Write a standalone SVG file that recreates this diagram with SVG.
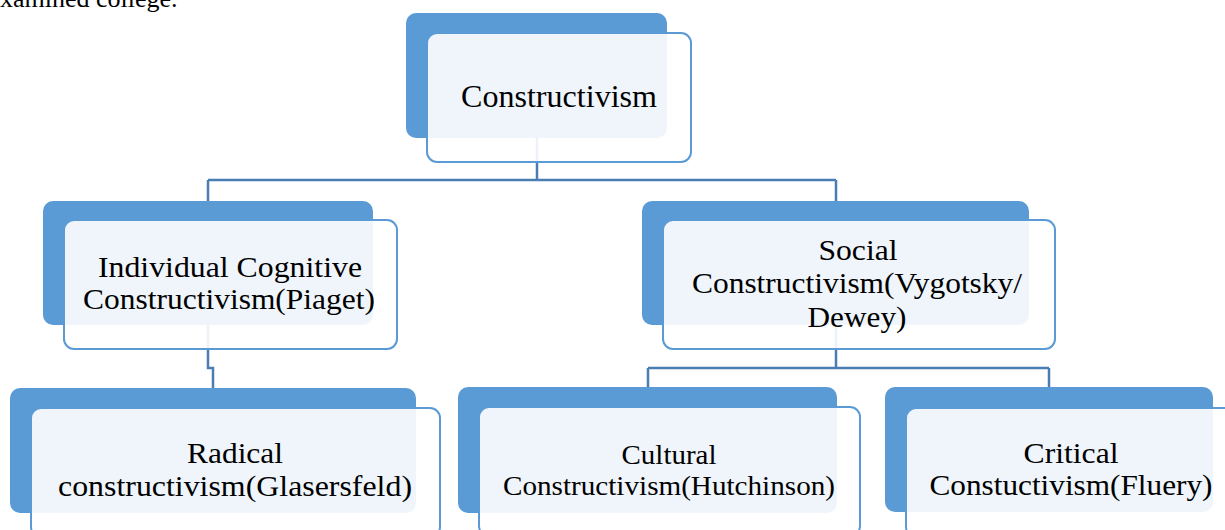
<svg xmlns="http://www.w3.org/2000/svg" width="1225" height="530" viewBox="0 0 1225 530">
<style>
.back{fill:#5B9BD5}
.front{fill:#ffffff;fill-opacity:0.9;stroke:#5B9BD5;stroke-width:2}
.conn{fill:none;stroke:#4A7EB3;stroke-width:2.5}
text{font-family:"Liberation Serif","Times New Roman",serif;fill:#000;text-anchor:middle}
</style>
<text x="0" y="7" font-size="26" style="text-anchor:start">xamined college.</text>
<g id="connectors">
<path class="conn" d="M537,138 V180 M208,180 H836 M208,180 V201 M836,180 V201"/>
<path class="conn" d="M208,325 V368 H213 V388"/>
<path class="conn" d="M836,325 V368 M648,368 H1049 M648,368 V387 M1049,368 V387"/>
</g>
<g id="n-constructivism">
<rect class="back" x="406" y="13" width="261" height="125" rx="10"/>
<rect class="front" x="427" y="33" width="264" height="129" rx="10"/>
<text x="559" y="107" font-size="32" textLength="196" lengthAdjust="spacingAndGlyphs">Constructivism</text>
</g>
<g id="n-individual">
<rect class="back" x="43" y="201" width="330" height="124" rx="10"/>
<rect class="front" x="64" y="220" width="333" height="129" rx="10"/>
<text font-size="29"><tspan x="230" y="277" textLength="264" lengthAdjust="spacingAndGlyphs">Individual Cognitive</tspan><tspan x="229" y="309" textLength="292" lengthAdjust="spacingAndGlyphs">Constructivism(Piaget)</tspan></text>
</g>
<g id="n-social">
<rect class="back" x="642" y="201" width="387" height="124" rx="10"/>
<rect class="front" x="663" y="220" width="392" height="129" rx="10"/>
<text font-size="29"><tspan x="858" y="260" textLength="79" lengthAdjust="spacingAndGlyphs">Social</tspan><tspan x="857" y="293" textLength="330" lengthAdjust="spacingAndGlyphs">Constructivism(Vygotsky/</tspan><tspan x="857" y="327" textLength="99" lengthAdjust="spacingAndGlyphs">Dewey)</tspan></text>
</g>
<g id="n-radical">
<rect class="back" x="10" y="388" width="406" height="125" rx="10"/>
<rect class="front" x="31" y="408" width="409" height="129" rx="10"/>
<text font-size="29"><tspan x="235" y="463" textLength="96" lengthAdjust="spacingAndGlyphs">Radical</tspan><tspan x="235" y="496" textLength="354" lengthAdjust="spacingAndGlyphs">constructivism(Glasersfeld)</tspan></text>
</g>
<g id="n-cultural">
<rect class="back" x="458" y="387" width="379" height="126" rx="10"/>
<rect class="front" x="479" y="407" width="381" height="129" rx="10"/>
<text font-size="27"><tspan x="669" y="464" textLength="95" lengthAdjust="spacingAndGlyphs">Cultural</tspan><tspan x="669" y="495" textLength="332" lengthAdjust="spacingAndGlyphs">Constructivism(Hutchinson)</tspan></text>
</g>
<g id="n-critical">
<rect class="back" x="885" y="387" width="328" height="125" rx="10"/>
<rect class="front" x="906" y="408" width="331" height="129" rx="10"/>
<text font-size="29"><tspan x="1071" y="463" textLength="95" lengthAdjust="spacingAndGlyphs">Critical</tspan><tspan x="1071" y="495" textLength="283" lengthAdjust="spacingAndGlyphs">Constuctivism(Fluery)</tspan></text>
</g>
</svg>
